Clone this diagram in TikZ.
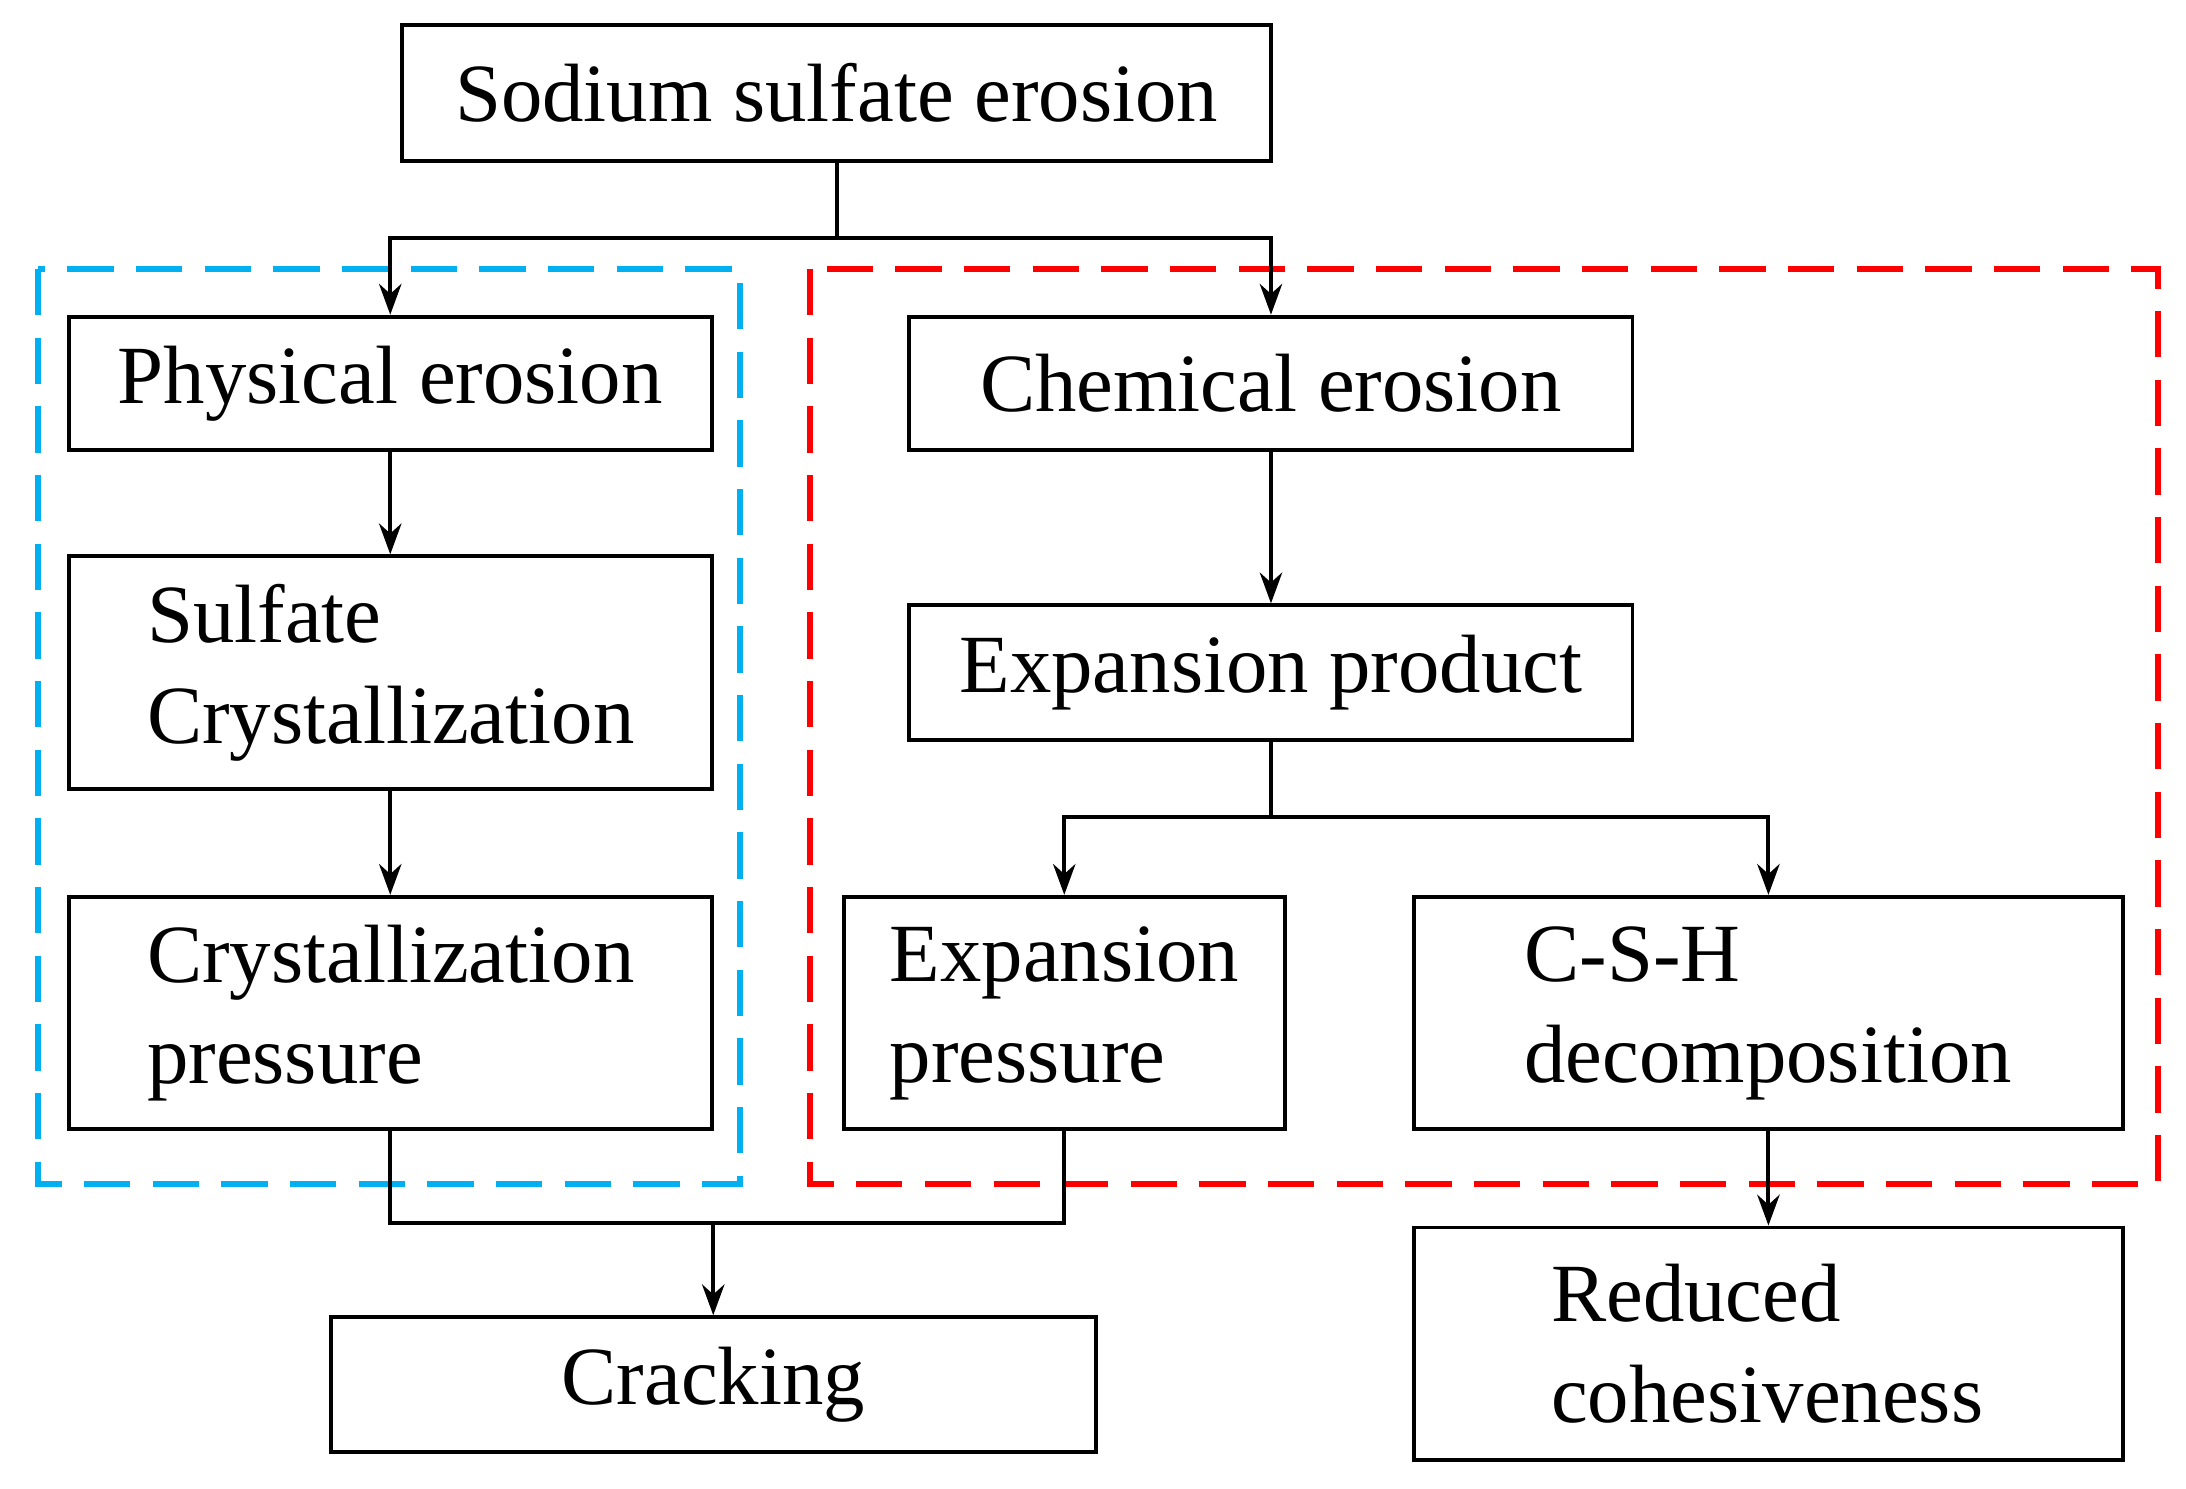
\documentclass[tikz,border=0pt]{standalone}
\usepackage{fontspec}
\setmainfont{Liberation Serif}
\usetikzlibrary{arrows.meta}
\begin{document}
\begin{tikzpicture}[x=0.1mm,y=-0.1mm,
  box/.style={draw,line width=0.8pt,inner sep=0pt,font=\fontsize{16.8}{20.5}\selectfont},
  arr/.style={line width=0.8pt,-{Stealth[length=2.2mm,width=1.6mm]}},
  ln/.style={line width=0.8pt},
  dsh/.style={line width=1.3pt,dash pattern=on 3.3mm off 1.6mm}]
\useasboundingbox (0,0) rectangle (1560,1062);
\draw[dsh,color={rgb,255:red,0;green,176;blue,240}] (27,192) rectangle (528,845);
\draw[dsh,red] (578,192) rectangle (1540,845);
\node[box,minimum width=62mm,minimum height=9.7mm] (top) at (597,66.5) {Sodium sulfate erosion};
\node[box,minimum width=45.9mm,minimum height=9.5mm] (phys) at (278.5,273.5) {Physical erosion};
\node[box,minimum width=51.6mm,minimum height=9.5mm] (chem) at (907,273.5) {Chemical erosion};
\node[box,minimum width=51.6mm,minimum height=9.6mm] (prod) at (907,480) {Expansion product};
\node[box,text width=34.7mm,align=left,inner xsep=5.6mm,minimum height=16.6mm] (sulf) at (278.5,480) {Sulfate\\Crystallization};
\node[box,text width=34.7mm,align=left,inner xsep=5.6mm,minimum height=16.6mm] (cp) at (278.5,723) {Crystallization\\pressure};
\node[box,text width=24.9mm,align=left,inner xsep=3.3mm,minimum height=16.6mm] (ep) at (759.5,723) {Expansion\\pressure};
\node[box,text width=34.8mm,align=left,inner xsep=7.9mm,minimum height=16.6mm] (csh) at (1262,723) {C-S-H\\decomposition};
\node[box,minimum width=54.6mm,minimum height=9.6mm] (crack) at (509,988) {Cracking};
\node[box,text width=31.0mm,align=left,inner xsep=9.8mm,minimum height=16.6mm] (red) at (1262,959) {Reduced\\cohesiveness};
\coordinate (j1) at (597,170);
\coordinate (j2) at (907,583);
\coordinate (j3) at (509,873);
\draw[ln] (top.south) -- (j1);
\draw[arr] (j1) -| (phys.north);
\draw[arr] (j1) -| (chem.north);
\draw[arr] (phys) -- (sulf);
\draw[arr] (sulf) -- (cp);
\draw[arr] (chem) -- (prod);
\draw[ln] (prod.south) -- (j2);
\draw[arr] (j2) -| (ep.north);
\draw[arr] (j2) -| (csh.north);
\draw[ln] (cp.south) |- (j3) -| (ep.south);
\draw[arr] (j3) -- (crack.north);
\draw[arr] (csh) -- (red);
\end{tikzpicture}
\end{document}
